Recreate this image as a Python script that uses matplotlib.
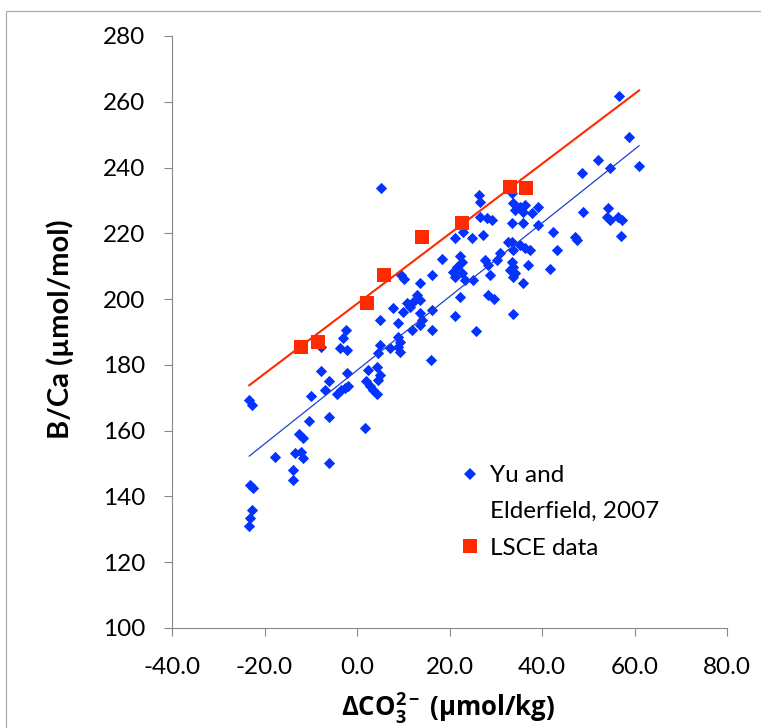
import numpy as np
import matplotlib
matplotlib.use("Agg")
import matplotlib.pyplot as plt
from matplotlib.lines import Line2D
from matplotlib.patches import Rectangle
from matplotlib.ticker import FormatStrFormatter

# ---------------- data ----------------
yu_dco3 = [-23.3, -22.7, -23.1, -22.5, -22.7, -23.1, -23.3, -17.7, -13.4, -12.1,
           -11.7, -13.8, -13.8, -12.5, -11.7, -10.4, -9.9, -7.8, -6.1, -6.9,
           -6.1, -6.1, -7.8, -4.3, -3.5, -2.6, -1.9, -2.2, -2.4, -3.0,
           -3.7, -2.2, 1.7, 2.4, 4.3, 5.0, 4.5, 1.9, 2.8, 3.5,
           4.3, 5.0, 4.5, 5.0, 7.1, 8.9, 9.3, 8.9, 9.3, 7.8,
           9.9, 8.9, 11.9, 13.6, 14.1, 13.6, 16.2, 16.2, 16.0, 13.0,
           13.6, 12.1, 10.8, 11.5, 13.6, 16.2, 9.5, 10.2, 5.2, 18.4,
           22.3, 22.7, 21.6, 20.8, 21.2, 22.7, 23.4, 25.1, 22.3, 21.2,
           25.7, 27.7, 28.3, 28.8, 30.9, 30.3, 32.7, 28.3, 29.6, 22.9,
           21.2, 24.9, 27.2, 26.4, 26.6, 26.6, 28.1, 29.2, 33.5, 33.7,
           34.2, 35.2, 36.3, 35.9, 37.8, 39.1, 33.5, 35.9, 39.1, 42.4,
           33.5, 33.7, 35.2, 36.3, 37.4, 43.2, 33.5, 33.7, 33.1, 34.2,
           33.7, 37.0, 41.7, 35.9, 33.7, 56.7, 58.8, 52.1, 48.7, 54.7,
           61.0, 48.9, 54.3, 54.1, 54.7, 56.4, 57.3, 57.1, 47.1, 47.6]
yu_bca = [169.3, 167.8, 143.5, 142.6, 135.9, 133.4, 131.0, 152.0, 153.2, 153.5,
          151.7, 148.0, 145.0, 159.0, 157.8, 162.9, 170.5, 178.1, 175.1, 172.4,
          164.2, 150.2, 185.4, 171.1, 172.4, 173.0, 173.6, 177.5, 190.6, 188.2,
          185.1, 184.5, 160.8, 178.4, 179.4, 176.9, 175.4, 175.1, 173.6, 172.4,
          171.1, 186.0, 183.6, 193.6, 185.1, 188.5, 187.0, 185.4, 183.9, 197.3,
          196.1, 192.7, 190.6, 192.1, 193.6, 195.8, 196.7, 190.6, 181.5, 201.2,
          199.7, 199.1, 198.8, 197.6, 204.9, 207.3, 207.3, 206.1, 233.8, 212.2,
          213.1, 211.3, 209.8, 208.2, 206.7, 207.9, 205.8, 205.8, 200.6, 194.9,
          190.3, 211.9, 210.4, 207.3, 214.0, 211.9, 217.4, 201.2, 200.0, 220.4,
          218.6, 218.6, 219.5, 231.7, 229.5, 225.0, 224.7, 224.0, 232.3, 229.2,
          227.1, 228.0, 228.6, 226.5, 226.2, 228.0, 223.1, 223.1, 222.5, 220.4,
          217.4, 214.9, 216.4, 215.5, 214.9, 214.9, 211.3, 209.8, 208.8, 207.9,
          206.7, 210.4, 209.2, 204.9, 195.5, 261.7, 249.3, 242.3, 238.3, 239.9,
          240.5, 226.5, 227.7, 225.0, 224.0, 225.0, 224.0, 219.2, 218.9, 218.0]

lsce_dco3 = [-12.1, -8.4, 2.2, 5.8, 14.0, 22.7, 33.0, 36.5]
lsce_bca = [185.4, 187.0, 198.8, 207.3, 218.9, 223.1, 234.0, 233.8]

x_ticks = [-40, -20, 0, 20, 40, 60, 80]
y_ticks = [100, 120, 140, 160, 180, 200, 220, 240, 260, 280]

series_labels = ["Yu and", "Elderfield, 2007", "LSCE data"]
x_label = r"$\mathbf{\Delta CO_3^{2-}}$ (µmol/kg)"
y_label = "B/Ca (µmol/mol)"

# ---------------- style ----------------
plt.rcParams["axes.unicode_minus"] = False
plt.rcParams["mathtext.fontset"] = "custom"
plt.rcParams["mathtext.rm"] = "Open Sans"
plt.rcParams["mathtext.bf"] = "Open Sans:bold"
plt.rcParams["mathtext.it"] = "Open Sans:italic"

BLUE = "#0433FF"
RED = "#FF2A00"
AXIS_GREY = "#878787"
TXT_FONT = ["Lato", "DejaVu Sans"]
FS = 17.5

fig = plt.figure(figsize=(7.61, 7.28), dpi=100)
ax = fig.add_axes([172 / 761, 1 - 628 / 728, 555 / 761, 592 / 728])

# scatter
ax.scatter(yu_dco3, yu_bca, marker="D", s=33, color=BLUE, linewidths=0, zorder=3)
ax.scatter(lsce_dco3, lsce_bca, marker="s", s=92, color=RED, linewidths=0, zorder=4)

# linear trend lines (least-squares, drawn over the range of the Yu data)
xr = np.array([min(yu_dco3), max(yu_dco3)])
pb = np.polyfit(yu_dco3, yu_bca, 1)
pr = np.polyfit(lsce_dco3, lsce_bca, 1)
ax.plot(xr, np.polyval(pr, xr), color=RED, lw=1.5, zorder=5)
ax.plot(xr, np.polyval(pb, xr), color="#2040D0", lw=0.9, zorder=5)

ax.set_xlim(-40, 80)
ax.set_ylim(100, 280)
ax.set_xticks(x_ticks)
ax.set_yticks(y_ticks)
ax.xaxis.set_major_formatter(FormatStrFormatter("%.1f"))

for s in ("top", "right"):
    ax.spines[s].set_visible(False)
for s in ("left", "bottom"):
    ax.spines[s].set_color(AXIS_GREY)
    ax.spines[s].set_linewidth(0.8)

ax.tick_params(axis="both", direction="out", length=6, width=0.8, color=AXIS_GREY,
               labelsize=FS, labelcolor="black")
ax.tick_params(axis="y", pad=13)
ax.tick_params(axis="x", pad=15)
for lab in ax.get_xticklabels() + ax.get_yticklabels():
    lab.set_family(TXT_FONT)

# axis titles
fig.text(60 / 761, 1 - 329 / 728, y_label, rotation=90, ha="center", va="center",
         fontsize=21, fontweight="bold", family=TXT_FONT)
fig.text(448 / 761, 1 - 708 / 728, x_label, ha="center", va="center",
         fontsize=18.5, fontweight="bold", family=["Open Sans", "DejaVu Sans"])

# legend
handles = [Line2D([], [], marker="D", ls="none", color=BLUE, markersize=5.75, markeredgewidth=0),
           Line2D([], [], ls="none"),
           Line2D([], [], marker="s", ls="none", color=RED, markersize=9.6, markeredgewidth=0)]
ax.legend(handles, series_labels, loc="upper left",
          bbox_to_anchor=((458 - 172) / 555, (628 - 465) / 592),
          frameon=False, borderpad=0, borderaxespad=0, handlelength=1.0,
          handletextpad=0.3, labelspacing=0.63,
          prop={"family": TXT_FONT, "size": FS})

# outer chart-area border
fig.add_artist(Rectangle((6 / 761, -0.2), 2.0, (1 - 11 / 728) + 0.2, fill=False,
                         edgecolor="#ABABAB", lw=0.9, transform=fig.transFigure,
                         clip_on=False))

fig.savefig("out.png", dpi=100)
